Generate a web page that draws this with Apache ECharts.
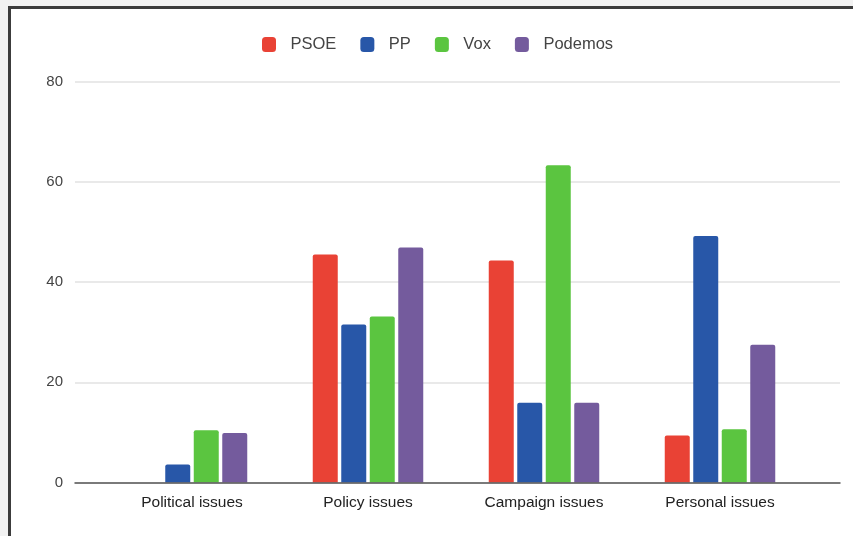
<!DOCTYPE html>
<html>
<head>
<meta charset="utf-8">
<script src="https://cdn.jsdelivr.net/npm/echarts@6/dist/echarts.min.js"></script>
<style>
  body { margin: 0; background: #f2f2f2; }
  #frame { position: absolute; left: 8px; top: 6px; width: 900px; height: 600px;
           border-left: 3px solid #3c3c3c; border-top: 3px solid #3c3c3c; background: #fff; }
  #chart { position: absolute; left: 0; top: 0; width: 853px; height: 536px; }
</style>
</head>
<body>
<div id="frame"></div>
<div id="chart"></div>
<script>
const categories = ['Political issues', 'Policy issues', 'Campaign issues', 'Personal issues'];
const parties = ['PSOE', 'PP', 'Vox', 'Podemos'];
const colors = ['#e94235', '#2857a8', '#5bc540', '#745b9d'];
const psoe = [0, 45.5, 44.3, 9.4];
const pp = [3.6, 31.5, 15.9, 49.2];
const vox = [10.4, 33.1, 63.3, 10.6];
const podemos = [9.9, 46.9, 15.9, 27.5];
const yTicks = [0, 20, 40, 60, 80];

const values = [psoe, pp, vox, podemos];
const chart = echarts.init(document.getElementById('chart'));

const fontFamily = 'Liberation Sans, Arial, sans-serif';

let option = {
  animation: false,
  color: colors,
  legend: {
    top: 31,
    left: 257,
    itemWidth: 14,
    itemHeight: 15,
    itemGap: 24,
    icon: 'roundRect',
    textStyle: { color: '#444', fontSize: 16.5, fontFamily: fontFamily, padding: [0, 0, 0, 9.5] },
    data: parties
  },
  grid: [
    // wide grid: gridlines + value labels
    { left: 75, right: 13, top: 81.5, bottom: 53.5 },
    // narrower grid where the bars live
    { left: 104, right: 45, top: 81.5, bottom: 53.5 }
  ],
  xAxis: [
    {
      gridIndex: 0, type: 'category', data: [''],
      axisLine: { lineStyle: { color: '#555', width: 1.5 } },
      axisTick: { show: false }, axisLabel: { show: false }, z: 5
    },
    {
      gridIndex: 1, type: 'category', data: categories,
      axisLine: { show: false }, axisTick: { show: false },
      axisLabel: { color: '#222', fontSize: 15.5, fontFamily: fontFamily, margin: 12 }
    }
  ],
  yAxis: [
    {
      gridIndex: 0, type: 'value', min: yTicks[0], max: yTicks[yTicks.length - 1], interval: 20,
      axisLine: { show: false }, axisTick: { show: false },
      axisLabel: { color: '#444', fontSize: 15, fontFamily: fontFamily, margin: 12 },
      splitLine: { lineStyle: { color: '#e2e2e2', width: 1.5 } }
    },
    {
      gridIndex: 1, type: 'value', min: 0, max: 80, interval: 20,
      axisLine: { show: false }, axisTick: { show: false },
      axisLabel: { show: false }, splitLine: { show: false }
    }
  ],
  series: parties.map(function (name, i) {
    return {
      name: name,
      type: 'bar',
      xAxisIndex: 1,
      yAxisIndex: 1,
      data: values[i],
      barWidth: 25,
      barGap: '14%',
      itemStyle: { color: colors[i], borderRadius: [2, 2, 0, 0] }
    };
  })
};
option && chart.setOption(option);
</script>
</body>
</html>
